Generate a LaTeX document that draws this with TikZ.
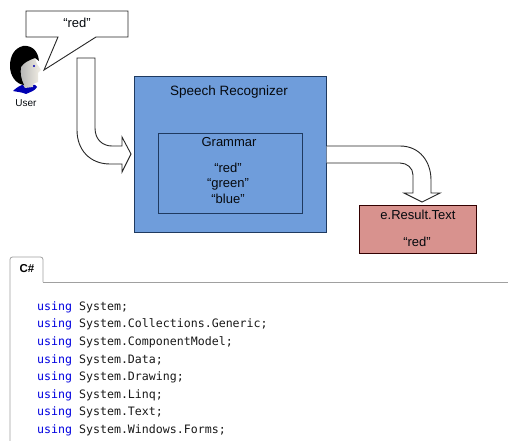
\documentclass[tikz,border=0pt]{standalone}
\usepackage{fontspec}
\setmainfont{Liberation Sans}
\newfontfamily\codefont{DejaVu Sans Mono}
\definecolor{boxblue}{HTML}{6F9DDB}
\definecolor{boxpink}{HTML}{D8928E}
\definecolor{navy}{HTML}{1F3A60}
\definecolor{kw}{HTML}{0000E0}
\definecolor{tabline}{HTML}{A0A0A0}
\definecolor{skin}{HTML}{F4F0E6}
\tikzset{
  x=1pt,y=-1pt,
  lbl/.style={inner sep=0pt,text=black!85!navy,font=\fontsize{#1}{#1}\selectfont},
  panel/.style={draw=navy,line width=1pt},
  outline/.style={draw=black!85,line width=0.9pt,fill=white,line join=miter},
  codeline/.style={anchor=base west,inner sep=0pt,font=\codefont\fontsize{11.6}{12}\selectfont,text=black!90}
}
\newcommand{\kwd}{\textcolor{kw}{using}}
\begin{document}
\begin{tikzpicture}
\useasboundingbox[fill=white] (0,0) rectangle (508,441);
% bubble
\draw[outline] (26,11) -- (128,11) -- (128,37) -- (96,37) -- (44,70) -- (58,37) -- (26,37) -- cycle;
\node[lbl=13] (said) at (77,23) {“red”};
% user
\fill[blue!70!black] (13,91) .. controls (17,87) and (20,86) .. (24,84) -- (35,85) -- (37,87) .. controls (35,91) and (30,92) .. (26,94) .. controls (22,92) and (17,92) .. (13,91) -- cycle;
\shade[left color=black!30,right color=skin] (19,62) -- (34,56) -- (37,64) -- (41,70) -- (38,73) -- (38,82) -- (33,84) -- (33,87) -- (25,88) -- (20,80) -- cycle;
\fill[black] (23,46) .. controls (31,45) and (38,50) .. (39,61) -- (35,58) .. controls (30,60) and (24,62) .. (21,67) .. controls (20,73) and (21,79) .. (24,85) .. controls (16,84) and (10,76) .. (10,66) .. controls (10,55) and (15,48) .. (23,46) -- cycle;
\fill[blue!70!black] (34,66) circle[radius=1.1];
\node[lbl=10] (user) at (26,103) {User};
% arrow in
\draw[outline] (77,58) -- (95,58) -- (95,128) .. controls (95,140) and (103,146) .. (112,146) -- (122,146) -- (122,137) -- (131,154) -- (122,172) -- (122,164) -- (110,164) .. controls (90,164) and (77,150) .. (77,130) -- cycle;
% speech recognizer
\node[panel,fill=boxblue,minimum width=192,minimum height=155,inner sep=0pt] (sr) at (230,154.5) {};
\node[lbl=13.5] (srt) at (229,92) {Speech Recognizer};
\node[panel,fill=boxblue,minimum width=144,minimum height=80,inner sep=0pt] (gr) at (230,173) {};
\node[lbl=13] (grt) at (229,142) {Grammar};
\node[lbl=13] (g1) at (228,168) {“red”};
\node[lbl=13] (g2) at (228,184) {“green”};
\node[lbl=13] (g3) at (228,199) {“blue”};
% arrow out
\draw[outline] (sr.east |- 0,146) -- (400,146) .. controls (420,146) and (431,162) .. (431,180) -- (431,193) -- (440,193) -- (422,202) -- (404,193) -- (413,193) -- (413,175) .. controls (413,168) and (407,163) .. (400,163) -- (sr.east |- 0,163);
% result
\node[draw=black!80!red,line width=1pt,fill=boxpink,minimum width=117,minimum height=48,inner sep=0pt] (res) at (417.5,229) {};
\node[lbl=13] (r1) at (418,215) {e.Result.Text};
\node[lbl=13] (r2) at (417,242) {“red”};
% tab
\draw[tabline,line width=0.8pt,rounded corners=2.5pt] (10,441) -- (10,257) -- (43,257) -- (43,282);
\draw[tabline,line width=0.8pt] (43,282) -- (508,282);
\node[inner sep=0pt,font=\bfseries\fontsize{11.5}{12}\selectfont] (tab) at (27,269) {C\#};
% code
\node[codeline] (c1) at (37,310) {\kwd{} System;};
\node[codeline] (c2) at (37,327.5) {\kwd{} System.Collections.Generic;};
\node[codeline] (c3) at (37,345) {\kwd{} System.ComponentModel;};
\node[codeline] (c4) at (37,363) {\kwd{} System.Data;};
\node[codeline] (c5) at (37,380.5) {\kwd{} System.Drawing;};
\node[codeline] (c6) at (37,398) {\kwd{} System.Linq;};
\node[codeline] (c7) at (37,415.5) {\kwd{} System.Text;};
\node[codeline] (c8) at (37,433) {\kwd{} System.Windows.Forms;};
\end{tikzpicture}
\end{document}
